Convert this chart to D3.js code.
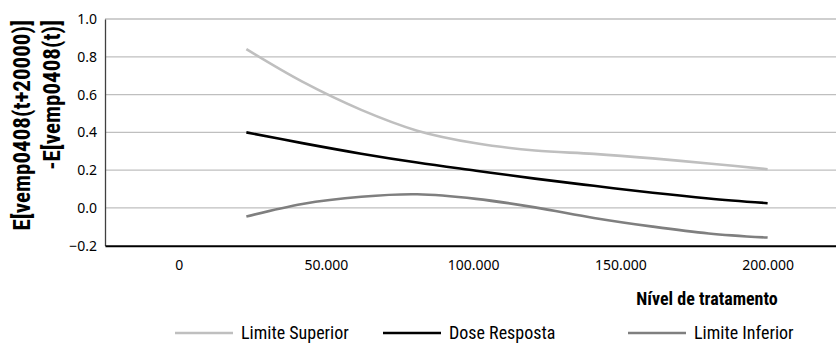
<!DOCTYPE html>
<html><head><meta charset="utf-8">
<script src="https://cdn.jsdelivr.net/npm/d3@7"></script>
<style>body{margin:0;background:#fff}svg{display:block}</style>
</head><body><svg id="c" width="836" height="349"></svg>
<script>
const treatment = [23000, 42000, 62000, 81000, 101000, 121000, 141000, 161000, 180000, 200000];
const limiteSuperior = [0.840, 0.668, 0.519, 0.409, 0.342, 0.304, 0.286, 0.262, 0.235, 0.205];
const doseResposta = [0.400, 0.343, 0.287, 0.240, 0.197, 0.155, 0.117, 0.080, 0.050, 0.025];
const limiteInferior = [-0.046, 0.021, 0.059, 0.072, 0.048, 0.003, -0.053, -0.099, -0.135, -0.157];
const xTicks = [0, 50000, 100000, 150000, 200000];
const yTicks = [-0.2, 0, 0.2, 0.4, 0.6, 0.8, 1.0];
const seriesNames = ["Limite Superior", "Dose Resposta", "Limite Inferior"];
const seriesColors = ["#bfbfbf", "#000000", "#7f7f7f"];
const yTitleLines = ["E[vemp0408(t+20000)]", "-E[vemp0408(t)]"];
const xTitle = "Nível de tratamento";

const svg = d3.select("#c");
const narrow = "'Liberation Sans Narrow','Roboto Condensed','DejaVu Sans Condensed',sans-serif";
const tickFont = "'Noto Sans','Open Sans',sans-serif";

const x = d3.scaleLinear().domain([-25000, 225000]).range([105, 841.25]);
const y = d3.scaleLinear().domain([-0.2, 1.0]).range([245.7, 19]);
const fmtX = v => d3.format(",")(v).replace(/,/g, ".");

// gridlines
svg.append("g").selectAll("line").data(yTicks.filter(t => t > -0.2)).join("line")
  .attr("x1", 105).attr("x2", 836).attr("y1", d => y(d)).attr("y2", d => y(d))
  .attr("stroke", "#bfbfbf").attr("stroke-width", 1.3);

// y axis
const yAxis = d3.axisLeft(y).tickValues(yTicks).tickSize(0).tickPadding(8).tickFormat(d3.format(".1f"));
const gy = svg.append("g").attr("transform", "translate(105,0)").call(yAxis);
gy.select(".domain").attr("stroke", "#404040").attr("stroke-width", 1.3);
gy.selectAll("text").attr("font-family", tickFont).attr("font-size", 14).attr("fill", "#000");

// x axis
const xAxis = d3.axisBottom(x).tickValues(xTicks).tickSize(0).tickPadding(14).tickFormat(fmtX);
const gx = svg.append("g").attr("transform", `translate(0,${y(-0.2)})`).call(xAxis);
gx.select(".domain").attr("stroke", "#000").attr("stroke-width", 2);
gx.selectAll("text").attr("font-family", tickFont).attr("font-size", 14).attr("fill", "#000");

// lines
const series = [limiteSuperior, doseResposta, limiteInferior];
const line = d3.line().x((d, i) => x(treatment[i])).y(d => y(d)).curve(d3.curveCatmullRom.alpha(0.5));
svg.append("g").selectAll("path").data(series).join("path")
  .attr("d", d => line(d)).attr("fill", "none")
  .attr("stroke", (d, i) => seriesColors[i]).attr("stroke-width", 2.6)
  .attr("stroke-linejoin", "round");

// y title
const yt = svg.append("g");
yTitleLines.forEach((t, i) => {
  yt.append("text").attr("transform", `translate(${30 + i * 30},20) rotate(-90)`)
    .attr("text-anchor", "end").attr("font-family", narrow).attr("font-weight", "bold")
    .attr("font-size", 23).attr("fill", "#000").text(t);
});

// x title
svg.append("text").attr("x", 707).attr("y", 305).attr("text-anchor", "middle")
  .attr("font-family", narrow).attr("font-weight", "bold").attr("font-size", 18)
  .attr("fill", "#000").text(xTitle);

// legend
const legendX = [175, 383, 628];
const lg = svg.append("g").selectAll("g").data(seriesNames).join("g")
  .attr("transform", (d, i) => `translate(${legendX[i]},333)`);
lg.append("line").attr("x1", 0).attr("x2", 58).attr("y1", 0).attr("y2", 0)
  .attr("stroke", (d, i) => seriesColors[i]).attr("stroke-width", 2.6);
lg.append("text").attr("x", 66).attr("y", 6).attr("font-family", narrow).attr("font-size", 18)
  .attr("fill", "#000").text(d => d);
</script></body></html>
